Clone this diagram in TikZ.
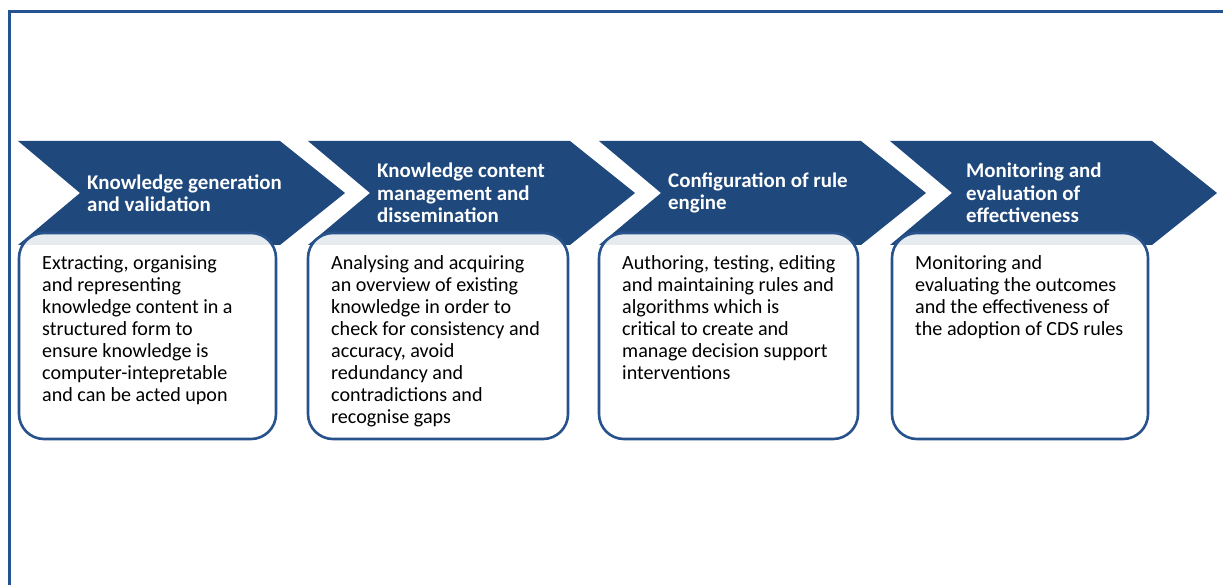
\documentclass[tikz,border=0pt]{standalone}
\usepackage{fontspec}
\setmainfont{Carlito}
\definecolor{chev}{RGB}{31,73,125}
\definecolor{frameblue}{RGB}{38,82,145}
\definecolor{boxborder}{RGB}{40,82,140}
\begin{document}
\begin{tikzpicture}[x=1pt,y=-1pt,
  frameline/.style={draw=frameblue,line width=3pt},
  chevshape/.style={fill=chev,draw=none},
  titletext/.style={anchor=west,align=left,text=white,font=\fontsize{20.9}{22.5}\selectfont\bfseries,inner sep=0pt},
  cardbox/.style={draw=boxborder,line width=2.6pt,fill=white,fill opacity=0.89,rounded corners=25pt},
  bodytext/.style={anchor=north west,align=left,text=black,font=\fontsize{20.1}{22}\selectfont,inner sep=0pt}
]
\useasboundingbox (0,0) rectangle (1223,585);
\draw[frameline] (9,590) -- (9,12) -- (1226,12);

% chevrons
\foreach \L/\n in {18/1,308/2,599/3,890/4}{
  \fill[chevshape] (\L,141) -- ++(262,0) -- ++(65,52) -- ++(-65,52) -- ++(-262,0) -- ++(62,-52) -- cycle;
  \coordinate (c\n) at (\L,141);
}

% boxes
\draw[cardbox] (19,233) rectangle (276,439);
\draw[cardbox] (308,233) rectangle (568,439);
\draw[cardbox] (599,233) rectangle (858,439);
\draw[cardbox] (892,233) rectangle (1148,439);

% titles
\node[titletext] (t1) at (87,193) {Knowledge generation\\and validation};
\node[titletext] (t2) at (377,193) {Knowledge content\\management and\\dissemination};
\node[titletext] (t3) at (668,193) {Configuration of rule\\engine};
\node[titletext] (t4) at (966,193) {Monitoring and\\evaluation of\\effectiveness};

% body
\node[bodytext] (b1) at (42,255) {Extracting, organising\\and representing\\knowledge content in a\\structured form to\\ensure knowledge is\\computer-intepretable\\and can be acted upon};
\node[bodytext] (b2) at (331,255) {Analysing and acquiring\\an overview of existing\\knowledge in order to\\check for consistency and\\accuracy, avoid\\redundancy and\\contradictions and\\recognise gaps};
\node[bodytext] (b3) at (622,255) {Authoring, testing, editing\\and maintaining rules and\\algorithms which is\\critical to create and\\manage decision support\\interventions};
\node[bodytext] (b4) at (915,255) {Monitoring and\\evaluating the outcomes\\and the effectiveness of\\the adoption of CDS rules};
\end{tikzpicture}
\end{document}
